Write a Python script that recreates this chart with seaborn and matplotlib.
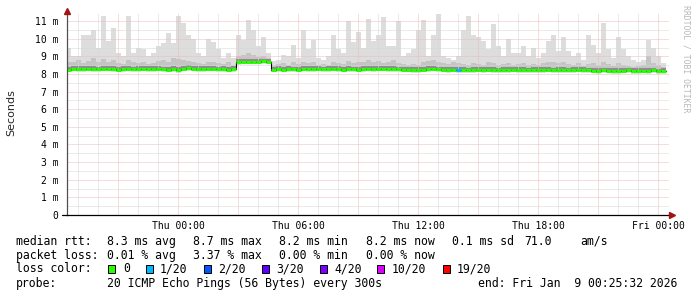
import numpy as np
import pandas as pd
import matplotlib
matplotlib.use("Agg")
import matplotlib.pyplot as plt
import matplotlib.patches as mpatches
import seaborn as sns

# ---------------- data (15 min bins) ----------------
times = pd.date_range("2026-01-07 18:25", periods=120, freq="15min")

median_ms = [8.25, 8.3, 8.28, 8.27, 8.3, 8.28, 8.26, 8.29, 8.3, 8.27, 8.25, 8.28, 8.3, 8.26, 8.28, 8.29, 8.27,
             8.28, 8.3, 8.26, 8.25, 8.28, 8.22, 8.3, 8.32, 8.3, 8.28, 8.27, 8.29, 8.3, 8.26, 8.28, 8.25, 8.27,
             8.68, 8.7, 8.7, 8.69, 8.7, 8.71, 8.7,
             8.24, 8.27, 8.25, 8.28, 8.26, 8.25, 8.3, 8.28, 8.27, 8.29, 8.26, 8.28, 8.3, 8.27, 8.25, 8.28, 8.26,
             8.24, 8.27, 8.3, 8.28, 8.29, 8.3, 8.28, 8.27, 8.26, 8.24, 8.25, 8.22, 8.23, 8.25, 8.28, 8.3, 8.26,
             8.24, 8.22, 8.25, 8.22, 8.21, 8.2, 8.22, 8.24, 8.23, 8.25, 8.22, 8.2, 8.23, 8.22, 8.24, 8.21,
             8.22, 8.2, 8.23, 8.21, 8.22, 8.24, 8.2, 8.22, 8.21, 8.2, 8.23, 8.25, 8.22, 8.2, 8.18, 8.17, 8.2,
             8.19, 8.16, 8.15, 8.18, 8.2, 8.17, 8.15, 8.18, 8.16, 8.2, 8.14, 8.17]

upper_ms = [8.7, 8.65, 8.8, 8.6, 8.75, 8.9, 8.7, 8.85, 8.7, 8.8, 8.6, 8.55, 8.8, 8.65, 8.6, 8.7, 8.55, 8.6,
            8.75, 8.8, 8.7, 8.9, 8.85, 8.8, 8.75, 8.7, 8.6, 8.55, 8.7, 8.65, 8.6, 8.55, 8.65, 8.5,
            9.0, 9.1, 9.2, 9.05, 8.95, 9.0, 8.9,
            8.5, 8.55, 8.6, 8.5, 8.65, 8.55, 8.7, 8.6, 8.65, 8.5, 8.55, 8.5, 8.7, 8.6, 8.55, 8.75, 8.6, 8.7,
            8.65, 8.8, 8.7, 8.75, 8.6, 8.7, 8.8, 8.6, 8.55, 8.5, 8.55, 8.5, 8.65, 8.75, 8.8, 8.7, 8.6, 8.55,
            8.7, 8.6, 8.55, 8.5, 8.6, 8.55, 8.5, 8.65, 8.6, 8.5, 8.55, 8.6, 8.5, 8.55,
            8.6, 8.5, 8.55, 8.5, 8.6, 8.65, 8.7, 8.6, 8.65, 8.55, 8.5, 8.6, 8.45, 8.55, 8.6, 8.5, 8.65, 8.55,
            8.45, 8.6, 8.5, 8.45, 8.4, 8.45, 8.5, 9.0, 8.6, 8.5, 8.4]

max_ms = [9.5, 9.0, 9.0, 10.2, 10.2, 10.5, 9.5, 11.3, 9.85, 10.6, 9.2, 9.0, 11.3, 9.2, 9.5, 9.4, 9.0, 9.2,
          9.6, 9.75, 10.3, 9.75, 11.3, 10.9, 10.2, 10.0, 9.2, 9.0, 10.0, 9.8,
          9.4, 8.9, 9.2, 8.9, 10.2, 9.9, 11.05, 10.5, 9.6, 10.1, 9.2, 8.75, 8.8, 9.1, 9.0, 9.65, 8.9, 10.5,
          9.4, 9.95, 8.9, 8.8, 9.0, 10.2, 9.4, 9.2, 11.0, 9.8, 10.4, 9.5, 11.1,
          9.85, 10.2, 11.25, 9.6, 9.6, 11.0, 9.0, 9.2, 9.4, 10.5, 11.05, 9.0, 10.2, 11.4, 9.0, 8.9, 8.8,
          9.0, 10.5, 11.3, 10.2, 10.1, 9.85, 9.4, 10.85, 9.6, 9.0, 10.0, 9.2, 9.2,
          9.6, 9.0, 9.5, 8.9, 9.2, 9.85, 10.2, 9.3, 10.1, 9.3, 9.0, 9.2, 8.8, 10.2, 9.65, 9.2, 10.9, 9.4,
          8.9, 10.1, 9.4, 9.0, 8.8, 8.7, 8.8, 9.9, 9.5, 9.0, 8.6]

loss_20 = [0] * 120
loss_20[78] = 1

loss_levels = ["0", "1/20", "2/20", "3/20", "4/20", "10/20", "19/20"]
loss_colors = ["#26ff00", "#00b8ff", "#0059ff", "#5e00ff", "#7e00ff", "#dd00ff", "#ff0000"]
loss_steps = [0, 1, 2, 3, 4, 10, 19]

ytick_vals = list(range(12))
ytick_labels = ["0", "1 m", "2 m", "3 m", "4 m", "5 m", "6 m", "7 m", "8 m", "9 m", "10 m", "11 m"]
xtick_vals = [0, 6, 12, 18, 24]
xtick_labels = ["Thu 00:00", "Thu 06:00", "Thu 12:00", "Thu 18:00", "Fri 00:00"]

# ---------------- figure ----------------
sns.set_style("white")
plt.rcParams['font.family'] = ['DejaVu Sans Mono', 'DejaVu Sans']

W, H = 697, 297
fig = plt.figure(figsize=(W / 100, H / 100), dpi=100)
fig.patch.set_facecolor("white")
ax = fig.add_axes([67 / W, (H - 215) / H, 602 / W, 201 / H])
ax.set_facecolor("white")

hours = ((times - pd.Timestamp("2026-01-08 00:00")) / pd.Timedelta(hours=1)).to_numpy()
step = 0.25
xe = np.append(hours, hours[-1] + step)
med = np.array(median_ms)
up = np.array(upper_ms)
mx = np.array(max_ms)
med_e = np.append(med, med[-1])
up_e = np.append(up, up[-1])
mx_e = np.append(mx, mx[-1])

XMIN, XMAX = -5.55, 24.55
YMIN, YMAX = 0, 11.4
ax.set_xlim(XMIN, XMAX)
ax.set_ylim(YMIN, YMAX)

# grid (dotted, rrdtool style)
dot = (0, (1, 1))
RED, GRAY = "#eebcbc", "#d6d6d6"
for h in np.arange(-5, 25, 1):
    ax.axvline(h, color=RED if h % 3 == 0 else GRAY, lw=0.72, ls=dot, zorder=3)
for v in np.arange(0.5, 11.5, 0.5):
    ax.axhline(v, color=RED if v % 1 == 0 else GRAY, lw=0.72, ls=dot, zorder=3)

# smoke
ax.fill_between(xe, med_e - 0.15, mx_e, step="post", color="#dddddd", lw=0, zorder=1)
ax.fill_between(xe, med_e - 0.1, up_e, step="post", color="#c4c4c4", lw=0, zorder=1.1)
ax.fill_between(xe, med_e - 0.05, med_e + 0.16, step="post", color="#8e8e8e", lw=0, zorder=1.2)

# median line: black steps + coloured horizontals
sns.lineplot(x=xe, y=med_e, drawstyle="steps-post", color="black", lw=0.8, ax=ax, zorder=4,
             sort=False, estimator=None)
seg_colors = [loss_colors[loss_steps.index(l)] for l in loss_20]
ax.hlines(med, hours, hours + step, colors=seg_colors, lw=2.16, zorder=5)

# axes
for s in ["top", "right"]:
    ax.spines[s].set_visible(False)
ax.spines["left"].set_color("#505050")
ax.spines["left"].set_linewidth(0.9)
ax.spines["bottom"].set_color("black")
ax.spines["bottom"].set_linewidth(0.9)
ax.spines["left"].set_zorder(6)
ax.spines["bottom"].set_zorder(6)

ax.set_yticks(ytick_vals)
ax.set_yticklabels(ytick_labels)
ax.set_xticks(xtick_vals)
ax.set_xticklabels(xtick_labels)
ax.tick_params(axis="y", length=0, pad=6, labelsize=7, colors="black")
ax.tick_params(axis="x", length=2, pad=2.5, labelsize=7, colors="black")
ax.tick_params(axis="x", color="#999999")

# axis arrows and zero tick
ax.plot([XMIN], [YMAX + 0.15], marker="^", ms=4.5, color="#a01414", clip_on=False, zorder=7)
ax.plot([XMAX + 0.15], [0], marker=">", ms=4.5, color="#a01414", clip_on=False, zorder=7)
ax.plot([XMIN - 0.25, XMIN], [0, 0], color="black", lw=0.9, clip_on=False, zorder=7)

# y label and watermark
fig.text(11 / W, 1 - 113 / H, "Seconds", rotation=90, ha="center", va="center",
         fontsize=8, family=["DejaVu Sans"])
fig.text(686 / W, 1 - 59 / H, "RRDTOOL / TOBI OETIKER", rotation=270, ha="center", va="center",
         fontsize=5.9, color="#b8b8b8")

# legend text
FS = 8.3


def T(xp, yp, s):
    fig.text(xp / W, 1 - yp / H, s, ha="left", va="center", fontsize=FS, color="black")


y1, y2, y3, y4 = 241.5, 255.5, 269, 283.5
T(16, y1, "median rtt:")
T(107, y1, "8.3 ms avg")
T(193, y1, "8.7 ms max")
T(279, y1, "8.2 ms min")
T(365.5, y1, "8.2 ms now")
T(451.5, y1, "0.1 ms sd")
T(524, y1, "71.0")
T(580, y1, "am/s")

T(16, y2, "packet loss:")
T(107, y2, "0.01 % avg")
T(193, y2, "3.37 % max")
T(279, y2, "0.00 % min")
T(365.5, y2, "0.00 % now")

T(16, y3, "loss color:")
box_x = [108, 146, 203.5, 262, 319.5, 377, 443]
lab_x = [123, 160, 218, 276, 334, 392, 457]
for bx, lx, lab, col in zip(box_x, lab_x, loss_levels, loss_colors):
    fig.patches.append(mpatches.Rectangle((bx / W, 1 - (y3 + 4) / H), 7 / W, 8 / H,
                                          transform=fig.transFigure, facecolor=col,
                                          edgecolor="black", lw=0.7))
    T(lx, y3, lab)

T(16, y4, "probe:")
T(107, y4, "20 ICMP Echo Pings (56 Bytes) every 300s")
T(478, y4, "end: Fri Jan  9 00:25:32 2026")

fig.savefig("out.png", dpi=100, facecolor="white")
